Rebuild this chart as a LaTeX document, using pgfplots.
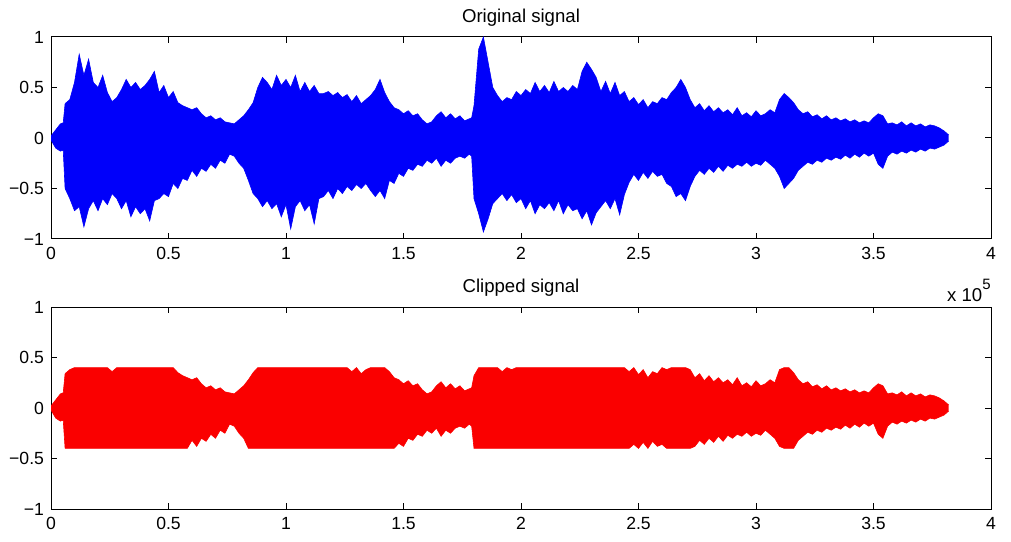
\documentclass[border=0pt]{standalone}
\usepackage{fontspec}
\setmainfont{Liberation Sans}
\usepackage{pgfplots}
\usepackage{pgfplotstable}
\pgfplotsset{compat=1.18}
\usepgfplotslibrary{fillbetween}

\pgfplotstableread{
x u l cu cl
0 0.02 -0.02 0.02 -0.02
2000 0.08 -0.10 0.08 -0.10
4000 0.14 -0.13 0.14 -0.13
5200 0.15 -0.12 0.15 -0.12
6000 0.34 -0.50 0.34 -0.40
8000 0.38 -0.60 0.38 -0.40
10000 0.55 -0.72 0.40 -0.40
12000 0.83 -0.68 0.40 -0.40
14000 0.62 -0.88 0.40 -0.40
16000 0.78 -0.70 0.40 -0.40
18000 0.55 -0.62 0.40 -0.40
20000 0.50 -0.72 0.40 -0.40
22000 0.62 -0.60 0.40 -0.40
24000 0.45 -0.66 0.40 -0.40
26000 0.36 -0.55 0.36 -0.40
28000 0.40 -0.60 0.40 -0.40
30000 0.48 -0.70 0.40 -0.40
32000 0.58 -0.62 0.40 -0.40
34000 0.50 -0.78 0.40 -0.40
36000 0.55 -0.68 0.40 -0.40
38000 0.48 -0.75 0.40 -0.40
40000 0.52 -0.70 0.40 -0.40
42000 0.58 -0.82 0.40 -0.40
44000 0.66 -0.62 0.40 -0.40
46000 0.45 -0.60 0.40 -0.40
48000 0.52 -0.55 0.40 -0.40
50000 0.40 -0.58 0.40 -0.40
52000 0.46 -0.45 0.40 -0.40
54000 0.35 -0.50 0.35 -0.40
56000 0.32 -0.40 0.32 -0.40
58000 0.30 -0.42 0.30 -0.40
60000 0.28 -0.32 0.28 -0.32
62000 0.30 -0.38 0.30 -0.38
64000 0.24 -0.30 0.24 -0.30
66000 0.20 -0.33 0.20 -0.33
68000 0.22 -0.26 0.22 -0.26
70000 0.18 -0.30 0.18 -0.30
72000 0.20 -0.22 0.20 -0.22
74000 0.16 -0.25 0.16 -0.25
76000 0.15 -0.16 0.15 -0.16
78000 0.14 -0.18 0.14 -0.18
80000 0.18 -0.25 0.18 -0.25
82000 0.22 -0.30 0.22 -0.30
84000 0.28 -0.42 0.28 -0.40
86000 0.35 -0.55 0.35 -0.40
88000 0.50 -0.60 0.40 -0.40
90000 0.60 -0.68 0.40 -0.40
92000 0.55 -0.62 0.40 -0.40
94000 0.48 -0.70 0.40 -0.40
96000 0.62 -0.65 0.40 -0.40
98000 0.52 -0.78 0.40 -0.40
100000 0.58 -0.66 0.40 -0.40
102000 0.50 -0.90 0.40 -0.40
104000 0.62 -0.68 0.40 -0.40
106000 0.46 -0.62 0.40 -0.40
108000 0.55 -0.72 0.40 -0.40
110000 0.46 -0.66 0.40 -0.40
112000 0.52 -0.85 0.40 -0.40
114000 0.44 -0.60 0.40 -0.40
116000 0.44 -0.58 0.40 -0.40
118000 0.46 -0.52 0.40 -0.40
120000 0.42 -0.60 0.40 -0.40
122000 0.45 -0.50 0.40 -0.40
124000 0.40 -0.55 0.40 -0.40
126000 0.43 -0.48 0.40 -0.40
128000 0.36 -0.52 0.36 -0.40
130000 0.42 -0.46 0.40 -0.40
132000 0.34 -0.50 0.34 -0.40
134000 0.38 -0.45 0.38 -0.40
136000 0.42 -0.52 0.40 -0.40
138000 0.48 -0.58 0.40 -0.40
140000 0.58 -0.52 0.40 -0.40
142000 0.45 -0.60 0.40 -0.40
144000 0.36 -0.42 0.36 -0.40
146000 0.30 -0.45 0.30 -0.40
148000 0.28 -0.35 0.28 -0.35
150000 0.24 -0.38 0.24 -0.38
152000 0.27 -0.30 0.27 -0.30
154000 0.22 -0.32 0.22 -0.32
156000 0.24 -0.26 0.24 -0.26
158000 0.18 -0.28 0.18 -0.28
160000 0.14 -0.22 0.14 -0.22
162000 0.16 -0.25 0.16 -0.25
164000 0.22 -0.20 0.22 -0.20
166000 0.26 -0.28 0.26 -0.28
168000 0.20 -0.22 0.20 -0.22
170000 0.24 -0.25 0.24 -0.25
172000 0.19 -0.20 0.19 -0.20
174000 0.22 -0.18 0.22 -0.18
176000 0.17 -0.20 0.17 -0.20
178000 0.19 -0.16 0.19 -0.16
179000 0.20 -0.18 0.20 -0.18
180000 0.32 -0.60 0.32 -0.40
182000 0.88 -0.75 0.40 -0.40
184000 1.00 -0.93 0.40 -0.40
186000 0.75 -0.80 0.40 -0.40
188000 0.50 -0.65 0.40 -0.40
190000 0.42 -0.60 0.40 -0.40
192000 0.36 -0.55 0.36 -0.40
194000 0.40 -0.62 0.40 -0.40
196000 0.38 -0.56 0.38 -0.40
198000 0.46 -0.64 0.40 -0.40
200000 0.42 -0.60 0.40 -0.40
202000 0.48 -0.70 0.40 -0.40
204000 0.44 -0.62 0.40 -0.40
206000 0.55 -0.75 0.40 -0.40
208000 0.46 -0.66 0.40 -0.40
210000 0.52 -0.70 0.40 -0.40
212000 0.45 -0.64 0.40 -0.40
214000 0.56 -0.72 0.40 -0.40
216000 0.46 -0.62 0.40 -0.40
218000 0.50 -0.75 0.40 -0.40
220000 0.46 -0.66 0.40 -0.40
222000 0.52 -0.72 0.40 -0.40
224000 0.48 -0.70 0.40 -0.40
226000 0.66 -0.80 0.40 -0.40
228000 0.75 -0.72 0.40 -0.40
230000 0.68 -0.86 0.40 -0.40
232000 0.60 -0.74 0.40 -0.40
234000 0.46 -0.68 0.40 -0.40
236000 0.56 -0.62 0.40 -0.40
238000 0.44 -0.70 0.40 -0.40
240000 0.55 -0.60 0.40 -0.40
242000 0.42 -0.76 0.40 -0.40
244000 0.46 -0.56 0.40 -0.40
246000 0.36 -0.44 0.36 -0.40
248000 0.40 -0.36 0.40 -0.36
250000 0.33 -0.42 0.33 -0.40
252000 0.38 -0.34 0.38 -0.34
254000 0.30 -0.40 0.30 -0.40
256000 0.36 -0.33 0.36 -0.33
258000 0.34 -0.38 0.34 -0.38
260000 0.40 -0.36 0.40 -0.36
262000 0.38 -0.45 0.38 -0.40
264000 0.45 -0.48 0.40 -0.40
266000 0.50 -0.58 0.40 -0.40
268000 0.58 -0.55 0.40 -0.40
270000 0.50 -0.62 0.40 -0.40
272000 0.38 -0.48 0.38 -0.40
274000 0.30 -0.38 0.30 -0.38
276000 0.34 -0.32 0.34 -0.32
278000 0.27 -0.36 0.27 -0.36
280000 0.32 -0.30 0.32 -0.30
282000 0.26 -0.34 0.26 -0.34
284000 0.30 -0.28 0.30 -0.28
286000 0.25 -0.33 0.25 -0.33
288000 0.28 -0.27 0.28 -0.27
290000 0.23 -0.30 0.23 -0.30
292000 0.30 -0.26 0.30 -0.26
294000 0.22 -0.28 0.22 -0.28
296000 0.25 -0.24 0.25 -0.24
298000 0.21 -0.28 0.21 -0.28
300000 0.27 -0.25 0.27 -0.25
302000 0.22 -0.27 0.22 -0.27
304000 0.24 -0.22 0.24 -0.22
306000 0.28 -0.26 0.28 -0.26
308000 0.25 -0.30 0.25 -0.30
310000 0.38 -0.38 0.38 -0.38
312000 0.44 -0.50 0.40 -0.40
314000 0.40 -0.45 0.40 -0.40
316000 0.35 -0.40 0.35 -0.40
318000 0.28 -0.32 0.28 -0.32
320000 0.24 -0.28 0.24 -0.28
322000 0.26 -0.24 0.26 -0.24
324000 0.21 -0.26 0.21 -0.26
326000 0.23 -0.22 0.23 -0.22
328000 0.19 -0.24 0.19 -0.24
330000 0.22 -0.20 0.22 -0.20
332000 0.18 -0.22 0.18 -0.22
334000 0.20 -0.19 0.20 -0.19
336000 0.17 -0.21 0.17 -0.21
338000 0.19 -0.17 0.19 -0.17
340000 0.16 -0.20 0.16 -0.20
342000 0.18 -0.16 0.18 -0.16
344000 0.15 -0.19 0.15 -0.19
346000 0.17 -0.15 0.17 -0.15
348000 0.15 -0.18 0.15 -0.18
350000 0.20 -0.15 0.20 -0.15
352000 0.24 -0.26 0.24 -0.26
354000 0.22 -0.30 0.22 -0.30
356000 0.14 -0.18 0.14 -0.18
358000 0.15 -0.14 0.15 -0.14
360000 0.13 -0.16 0.13 -0.16
362000 0.16 -0.13 0.16 -0.13
364000 0.12 -0.15 0.12 -0.15
366000 0.15 -0.12 0.15 -0.12
368000 0.12 -0.14 0.12 -0.14
370000 0.14 -0.11 0.14 -0.11
372000 0.11 -0.13 0.11 -0.13
374000 0.13 -0.10 0.13 -0.10
376000 0.12 -0.11 0.12 -0.11
378000 0.10 -0.09 0.10 -0.09
380000 0.07 -0.07 0.07 -0.07
382000 0.03 -0.03 0.03 -0.03
}\sig

\definecolor{sigblue}{RGB}{0,0,250}
\definecolor{sigred}{RGB}{250,0,0}

\pgfplotsset{
  every axis title shift=0pt,
  sigaxis/.style={
    scale only axis, width=470pt, height=101pt,
    xmin=0, xmax=400000, ymin=-1, ymax=1,
    clip mode=individual,
    scaled x ticks=false,
    xtick={0,50000,100000,150000,200000,250000,300000,350000,400000},
    xticklabels={0,0.5,1,1.5,2,2.5,3,3.5,4},
    ytick={-1,-0.5,0,0.5,1},
    yticklabels={−1,−0.5,0,0.5,1},
    tick align=inside, major tick length=3pt,
    every tick/.style={black, line width=0.5pt},
    axis line style={black, line width=0.5pt},
    tick label style={font=\fontsize{8.8}{10}\selectfont},
    xticklabel style={yshift=-0.5pt},
    title style={font=\fontsize{9.3}{11}\selectfont, at={(0.5,1)}, anchor=base, yshift=7.3pt},
  }
}

\begin{document}
\begin{tikzpicture}
\begin{axis}[sigaxis, at={(25.5pt,151pt)}, anchor=south west, title={Original signal}]
\addplot[name path=U1, sigblue, line width=0.3pt] table[x=x,y=u]{\sig};
\addplot[name path=L1, sigblue, line width=0.3pt] table[x=x,y=l]{\sig};
\addplot[sigblue] fill between[of=U1 and L1];
\node[anchor=base east, font=\fontsize{9.3}{11}\selectfont, inner sep=0pt] at (rel axis cs:1,0) [yshift=-31.3pt] {x 10\raisebox{6pt}{\fontsize{7.5}{8}\selectfont 5}};
\end{axis}
\begin{axis}[sigaxis, at={(25.5pt,16pt)}, anchor=south west, title={Clipped signal}]
\addplot[name path=U2, sigred, line width=0.3pt] table[x=x,y=cu]{\sig};
\addplot[name path=L2, sigred, line width=0.3pt] table[x=x,y=cl]{\sig};
\addplot[sigred] fill between[of=U2 and L2];
\end{axis}
\pgfresetboundingbox
\path[use as bounding box] (0,0) rectangle (505.5pt,270.5pt);
\end{tikzpicture}
\end{document}
